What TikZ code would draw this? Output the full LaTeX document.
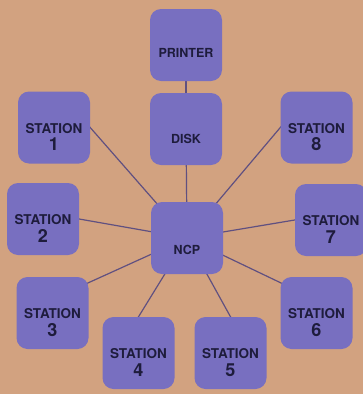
\documentclass[tikz,border=0pt]{standalone}
\usepackage{fontspec}
\setmainfont{TeX Gyre Heros}
\usetikzlibrary{backgrounds}

\definecolor{paper}{RGB}{210,162,128}
\definecolor{unitfill}{RGB}{120,111,192}
\definecolor{wirecol}{RGB}{96,80,128}
\definecolor{inkcol}{RGB}{30,28,60}

\begin{document}
\begin{tikzpicture}[x=1pt, y=-1pt,
            unit/.style={fill=unitfill, rounded corners=11pt, minimum size=72pt, inner sep=0pt},
            tag/.style={text=inkcol, font=\bfseries\fontsize{12.5}{14}\selectfont, inner sep=0pt},
            word/.style={text=inkcol, font=\bfseries\fontsize{13.5}{15}\selectfont, inner sep=0pt},
            num/.style={text=inkcol, font=\bfseries\fontsize{18}{20}\selectfont, inner sep=0pt},
            wire/.style={draw=wirecol, line width=1.2pt, shorten >=-10pt}]
            \useasboundingbox (0,0) rectangle (363,394);
            \node[unit, label={[tag, yshift=-8pt]center:PRINTER}] (printer) at (186,45) {};
            \node[unit, label={[tag, yshift=-10pt]center:DISK}] (disk) at (186,129) {};
            \node[unit, label={[tag, yshift=-12pt]center:NCP}] (ncp) at (187,238) {};
            \node[unit, label={[word, yshift=-1pt]center:STATION}, label={[num, yshift=-17pt]center:1}] (s1) at (54,127.5) {};
            \node[unit, label={[word, yshift=-1pt]center:STATION}, label={[num, yshift=-17pt]center:2}] (s2) at (43,219) {};
            \node[unit, label={[word, yshift=-1pt]center:STATION}, label={[num, yshift=-17pt]center:3}] (s3) at (52.5,313) {};
            \node[unit, label={[word, yshift=-1pt]center:STATION}, label={[num, yshift=-17pt]center:4}] (s4) at (138.5,353) {};
            \node[unit, label={[word, yshift=-1pt]center:STATION}, label={[num, yshift=-17pt]center:5}] (s5) at (230.5,353) {};
            \node[unit, label={[word, yshift=-1pt]center:STATION}, label={[num, yshift=-17pt]center:6}] (s6) at (316.5,313) {};
            \node[unit, label={[word, yshift=-1pt]center:STATION}, label={[num, yshift=-17pt]center:7}] (s7) at (331,220) {};
            \node[unit, label={[word, yshift=-1pt]center:STATION}, label={[num, yshift=-17pt]center:8}] (s8) at (316.5,127.5) {};
            \begin{scope}[on background layer]
                \fill[paper] (0,0) rectangle (363,394);
                \draw[wire] (disk.center) -- (printer.center);
                \draw[wire] (ncp.center) -- (disk.center);
                \draw[wire] (ncp.center) -- (s1.east);
                \draw[wire] (ncp.center) -- (s2.east);
                \draw[wire] (ncp.center) -- (s3.40);
                \draw[wire] (ncp.center) -- (s4.north);
                \draw[wire] (ncp.center) -- (s5.north);
                \draw[wire] (ncp.center) -- (s6.140);
                \draw[wire] (ncp.center) -- (s7.west);
                \draw[wire] (ncp.center) -- (s8.west);
            \end{scope}
        \end{tikzpicture}
\end{document}
